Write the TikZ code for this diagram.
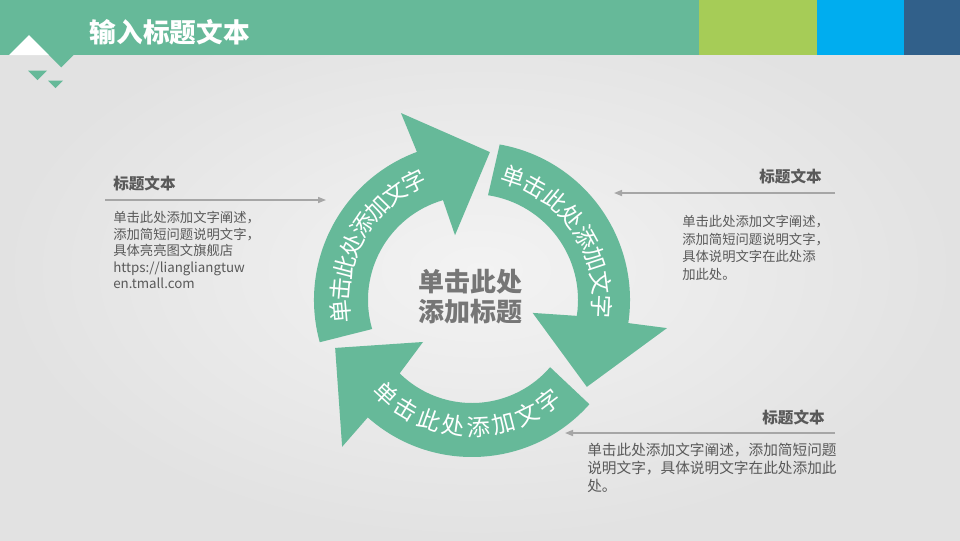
\documentclass[tikz,border=0pt]{standalone}
\usepackage{fontspec}
\setmainfont{Noto Sans CJK SC}
\usetikzlibrary{arrows.meta}
\definecolor{cyclegreen}{RGB}{102,185,153}
\definecolor{barlime}{RGB}{166,204,87}
\definecolor{barblue}{RGB}{0,173,239}
\definecolor{barnavy}{RGB}{49,96,138}
\definecolor{bglight}{RGB}{243,243,243}
\definecolor{bgdark}{RGB}{226,226,226}
\definecolor{textgray}{RGB}{89,89,89}
\definecolor{hubgray}{RGB}{118,118,118}
\definecolor{linegray}{RGB}{166,166,166}
\tikzset{
  arrtxt/.style={white,font=\fontsize{17.5}{17.5}\selectfont,inner sep=0pt},
  heading/.style={textgray,font=\fontsize{11.7}{14}\selectfont\bfseries,inner sep=0pt},
  bodytxt/.style={textgray,font=\fontsize{10}{13}\selectfont,inner sep=0pt,align=left},
  sidearrow/.style={linegray,line width=1.1pt,-{Triangle[length=6pt,width=4.5pt]}}
}

\begin{document}
\begin{tikzpicture}[x=0.75pt,y=0.75pt]
  \useasboundingbox (0,0) rectangle (960,-540);
  \shade[inner color=bglight,outer color=bgdark] (0,0) rectangle (960,-540);
  \fill[cyclegreen] (0,0) rectangle (699,-55);
  \fill[barlime] (699,0) rectangle (817,-55);
  \fill[barblue] (817,0) rectangle (904,-55);
  \fill[barnavy] (904,0) rectangle (960,-55);
  \fill[white] (29,-35) -- (9,-55) -- (49,-55) -- cycle;
  \fill[cyclegreen] (49,-55) -- (73.5,-55) -- (61.25,-67.25) -- cycle;
  \fill[cyclegreen] (28,-70.5) -- (47,-70.5) -- (37.5,-80) -- cycle;
  \fill[cyclegreen] (48,-80.5) -- (63,-80.5) -- (55.5,-88) -- cycle;
  \node[anchor=west,white,font=\fontsize{20}{24}\selectfont\bfseries] (title) at (85,-32) {输入标题文本};

  \begin{scope}[shift={(472,-300)}]
    \fill[cyclegreen] (195.5:158) arc[start angle=195.5,end angle=110.4,radius=158] -- (110.8:200) -- (83.1:149) -- (104.7:67) -- (106.2:104) arc[start angle=106.2,end angle=196.2,radius=104] -- cycle;
    \fill[cyclegreen] (79.9:158) arc[start angle=79.9,end angle=-8.4,radius=158] -- (-8.2:197) -- (-37.1:144) -- (-12:62) -- (-8.6:106) arc[start angle=-8.6,end angle=81.3,radius=106] -- cycle;
    \fill[cyclegreen] (-41.6:157) arc[start angle=-41.6,end angle=-131.6,radius=157] -- (-131.5:196) -- (-160.7:145) -- (-139.4:64.5) -- (-134.6:103) arc[start angle=-134.6,end angle=-40.7,radius=103] -- cycle;
    \foreach \ch [count=\i from 0, evaluate=\i as \ang using 185-\i*9.86] in {单,击,此,处,添,加,文,字}
      \node[arrtxt,rotate=\ang-90] (lt\i) at (\ang:132) {\ch};
    \foreach \ch [count=\i from 0, evaluate=\i as \ang using 71.6-\i*10.66] in {单,击,此,处,添,加,文,字}
      \node[arrtxt,rotate=\ang-90] (rt\i) at (\ang:130) {\ch};
    \foreach \ch [count=\i from 0, evaluate=\i as \ang using -132.5+\i*11.39] in {单,击,此,处,添,加,文,字}
      \node[arrtxt,rotate=\ang+90] (bt\i) at (\ang:127) {\ch};
    \node[hubgray,align=center,inner sep=0pt,font=\fontsize{19.5}{22.5}\selectfont\bfseries] (hub) at (-2,3) {单击此处\\添加标题};
  \end{scope}

  \node[heading,anchor=west] (lhead) at (113,-183) {标题文本};
  \coordinate (lfrom) at (105,-200);
  \coordinate (lto) at (326,-200);
  \draw[sidearrow] (lfrom) -- (lto);
  \node[bodytxt,anchor=north west,font=\fontsize{10}{12.4}\selectfont] (lbody) at (113,-211) {单击此处添加文字阐述，\\添加简短问题说明文字，\\具体亮亮图文旗舰店\\https://liangliangtuw\\en.tmall.com};

  \node[heading,anchor=east] (rhead) at (822,-176) {标题文本};
  \coordinate (rfrom) at (835,-193);
  \coordinate (rto) at (614,-193);
  \draw[sidearrow] (rfrom) -- (rto);
  \node[bodytxt,anchor=north west,font=\fontsize{10}{13.2}\selectfont] (rbody) at (682,-215) {单击此处添加文字阐述，\\添加简短问题说明文字，\\具体说明文字在此处添\\加此处。};

  \node[heading,anchor=east] (bhead) at (825,-417) {标题文本};
  \coordinate (bfrom) at (835,-433);
  \coordinate (bto) at (565,-433);
  \draw[sidearrow] (bfrom) -- (bto);
  \node[bodytxt,anchor=north west,font=\fontsize{11}{13.5}\selectfont] (bbody) at (587,-443) {单击此处添加文字阐述，添加简短问题\\说明文字，具体说明文字在此处添加此\\处。};
\end{tikzpicture}
\end{document}
